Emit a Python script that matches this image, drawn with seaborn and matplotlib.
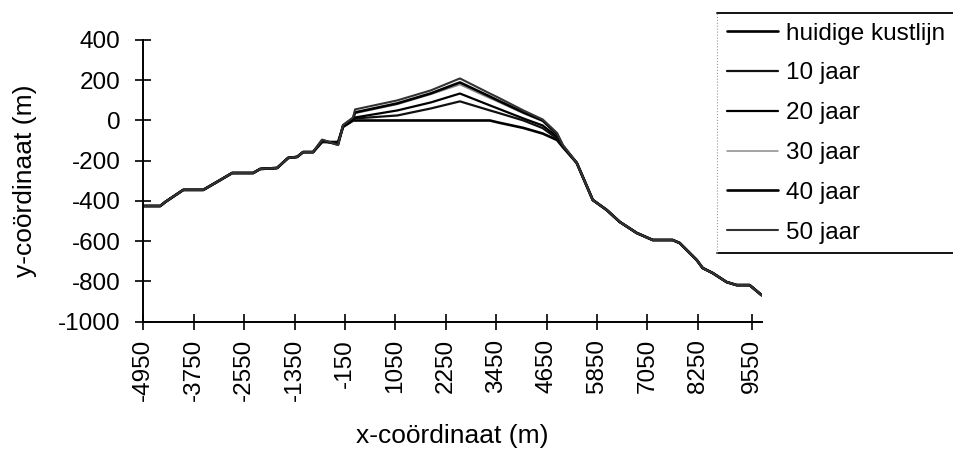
import matplotlib
matplotlib.use("Agg")
import matplotlib.pyplot as plt
from matplotlib.lines import Line2D
import seaborn as sns
import pandas as pd

# ---- data ----
series_names = ["huidige kustlijn", "10 jaar", "20 jaar", "30 jaar", "40 jaar", "50 jaar"]

# shared western part of the profile
x_left = [-4950, -4546, -4427, -3999, -3523, -3119, -2834, -2334, -2168, -1764, -1502, -1288, -1145, -907]
y_left = [-425, -425, -405, -345, -345, -296, -261, -261, -241, -236, -186, -181, -157, -157]

# middle part, where the coastline grows
x_mid = [-693, -313, -194, 44, 92, 1100, 1900, 2588, 3302, 3500, 4100, 4560, 4900, 5037]
y_mid_0 = [-107, -107, -32, 0, 0, 0, 0, 0, 0, -10, -37, -65, -97, -132]
y_mid_10 = [-105, -112, -30, 0, 10, 25, 60, 95, 50, 38, 0, -38, -90, -130]
y_mid_20 = [-102, -115, -28, 5, 15, 50, 90, 134, 75, 59, 10, -25, -80, -128]
y_mid_30 = [-100, -118, -25, 10, 35, 80, 130, 178, 110, 92, 35, -5, -72, -126]
y_mid_40 = [-98, -120, -25, 10, 40, 85, 135, 189, 119, 99, 40, 0, -68, -124]
y_mid_50 = [-95, -122, -22, 15, 55, 100, 150, 209, 134, 114, 50, 5, -62, -122]

# shared eastern part of the profile
x_right = [5370, 5751, 6084, 6393, 6797, 7178, 7653, 7820, 8224, 8366, 8604, 8937, 9175, 9484, 9770]
y_right = [-211, -395, -445, -504, -559, -594, -594, -609, -693, -733, -758, -803, -818, -818, -868]

y_ticks = [400, 200, 0, -200, -400, -600, -800, -1000]
x_ticks = [-4950, -3750, -2550, -1350, -150, 1050, 2250, 3450, 4650, 5850, 7050, 8250, 9550]

mids = [y_mid_0, y_mid_10, y_mid_20, y_mid_30, y_mid_40, y_mid_50]
rows = []
for name, ym in zip(series_names, mids):
    xs = x_left + x_mid + x_right
    ys = y_left + ym + y_right
    for xv, yv in zip(xs, ys):
        rows.append({"x": xv, "y": yv, "serie": name})
df = pd.DataFrame(rows)

colors = {"huidige kustlijn": "#000000", "10 jaar": "#111111", "20 jaar": "#000000",
          "30 jaar": "#8a8a8a", "40 jaar": "#000000", "50 jaar": "#333333"}
widths = [1.9, 1.6, 1.6, 1.1, 1.9, 1.5]

# ---- plotting ----
sns.set_theme(style="white")
plt.rcParams["font.family"] = ["Liberation Sans", "DejaVu Sans"]

fig = plt.figure(figsize=(9.54, 4.5), dpi=100)
ax = fig.add_axes([143.3 / 954, 1 - 321.7 / 450, (762 - 143.3) / 954, (321.7 - 40) / 450])

sns.lineplot(data=df, x="x", y="y", hue="serie", hue_order=series_names,
             palette=colors, estimator=None, sort=False, legend=False, ax=ax)
lines = ax.get_lines()
for ln, w in zip(lines, widths):
    ln.set_linewidth(w)

ax.set_xlim(-4950, 9780)
ax.set_ylim(-1000, 400)
ax.set_yticks(y_ticks)
ax.set_xticks(x_ticks)
ax.set_xticklabels([str(v) for v in x_ticks], rotation=90)
ax.set_yticklabels([str(v) for v in y_ticks])

for s in ["top", "right"]:
    ax.spines[s].set_visible(False)
for s in ["left", "bottom"]:
    ax.spines[s].set_color("black")
    ax.spines[s].set_linewidth(1.4)

ax.tick_params(axis="both", direction="inout", length=11, width=1.2, colors="black",
               labelsize=17.5)
ax.tick_params(axis="y", pad=11, left=True)
ax.tick_params(axis="x", pad=7, bottom=True)

ax.set_xlabel("x-coördinaat (m)", fontsize=19, labelpad=16, color="black")
ax.set_ylabel("y-coördinaat (m)", fontsize=19, labelpad=15, color="black")

leg = fig.legend(handles=lines, labels=series_names, loc="upper left",
                 bbox_to_anchor=(717 / 954, 1 - 13 / 450), bbox_transform=fig.transFigure,
                 frameon=False, fontsize=17.5, handlelength=2.1, handletextpad=0.33,
                 labelspacing=0.73, borderpad=0.4, borderaxespad=0)
for t in leg.get_texts():
    t.set_color("black")

fig.canvas.draw()
bb = leg.get_window_extent().transformed(fig.transFigure.inverted())
fig.add_artist(Line2D([bb.x0, 1.0], [bb.y1, bb.y1], transform=fig.transFigure, color="black", lw=1.3))
fig.add_artist(Line2D([bb.x0, 1.0], [bb.y0, bb.y0], transform=fig.transFigure, color="black", lw=1.3))
fig.add_artist(Line2D([bb.x0, bb.x0], [bb.y0, bb.y1], transform=fig.transFigure, color="#999999",
                      lw=0.8, ls=":"))

fig.savefig("out.png", dpi=100, facecolor="white")
